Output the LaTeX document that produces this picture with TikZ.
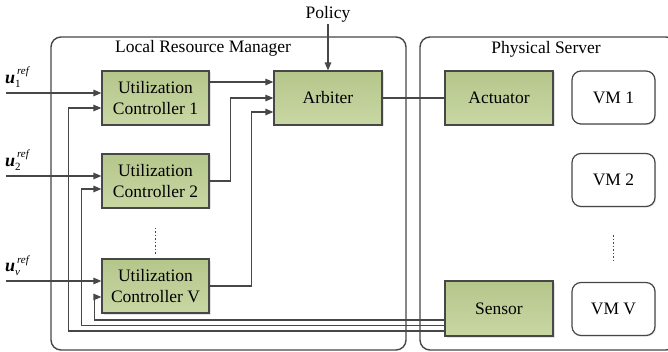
\documentclass[tikz,border=0pt]{standalone}
\usepackage{fontspec}
\setmainfont{Liberation Serif}
\usetikzlibrary{arrows.meta,shadows}

\definecolor{ink}{HTML}{474747}
\definecolor{gtop}{HTML}{B5C68B}
\definecolor{gbot}{HTML}{C9D7A4}

% reference input label: bold italic u with a subscript and an italic "ref"
\newcommand{\urefl}[1]{{\fontsize{18}{18}\selectfont\bfseries\itshape u}%
  \rlap{\raisebox{-4pt}{\fontsize{11}{11}\selectfont #1}}%
  \raisebox{9pt}{\fontsize{11}{11}\selectfont\itshape\,ref}}

\begin{document}
\begin{tikzpicture}[x=1pt,y=-1pt,
  font=\fontsize{17.5}{21}\selectfont,
  frame/.style={draw=ink, line width=1.4pt, rounded corners=10pt, inner sep=0pt},
  unit/.style={draw=ink, line width=1.2pt, top color=gtop, bottom color=gbot,
    minimum width=107pt, minimum height=54pt, inner sep=0pt, align=center,
    drop shadow={opacity=0.22, shadow xshift=1.5pt, shadow yshift=-1.5pt}},
  vm/.style={draw=ink, line width=1.2pt, rounded corners=9pt, fill=white,
    minimum width=83pt, minimum height=53pt, inner sep=0pt,
    drop shadow={opacity=0.15, shadow xshift=1.2pt, shadow yshift=-1.2pt}},
  wire/.style={draw=ink, line width=1.3pt},
  feed/.style={wire, -{Triangle[length=8pt,width=6.5pt]}},
  vdots/.style={draw=ink, line width=1.6pt, dash pattern=on 1.5pt off 2pt}]

\useasboundingbox (0,0) rectangle (668,352);

% enclosing frames
\node[frame, minimum width=355pt, minimum height=313pt] (lrm) at (228.5,193.5) {};
\node[frame, minimum width=256pt, minimum height=313pt] (ps) at (548,193.5) {};
\node[anchor=base] (lrmt) at (203,53) {Local Resource Manager};
\node[anchor=base] (pst) at (546,54) {Physical Server};

% blocks
\node[unit] (uc1) at (155.5,98) {Utilization\\Controller 1};
\node[unit] (uc2) at (155.5,181) {Utilization\\Controller 2};
\node[unit] (ucv) at (155.5,286) {Utilization\\Controller V};
\node[unit, minimum width=108pt] (arb) at (328,98) {Arbiter};
\node[unit, minimum width=108pt] (act) at (499,98) {Actuator};
\node[unit, minimum width=108pt, minimum height=55pt] (sen) at (499,308.5) {Sensor};
\node[vm] (vm1) at (613.5,97.5) {VM 1};
\node[vm] (vm2) at (613.5,180) {VM 2};
\node[vm] (vmv) at (613.5,309) {VM V};

% continuation dots
\draw[vdots] ([yshift=-19pt]uc2.south) -- ([yshift=4pt]ucv.north);
\draw[vdots] ([yshift=-28pt]vm2.south) -- ([yshift=-56pt]vm2.south);

% policy input
\node[anchor=base, inner sep=1pt] (pol) at (328,19) {Policy};
\draw[feed] (pol.south) -- (arb.north);

% reference inputs
\coordinate (in1) at (6,93);
\coordinate (in2) at (6,176);
\coordinate (inv) at (6,281);
\node[anchor=base west, inner sep=0pt] (l1) at (5,84) {\urefl{1}};
\node[anchor=base west, inner sep=0pt] (l2) at (5,167) {\urefl{2}};
\node[anchor=base west, inner sep=0pt] (lv) at (5,272) {\urefl{\itshape v}};
\draw[feed] (in1) -- (in1 -| uc1.west);
\draw[feed] (in2) -- (in2 -| uc2.west);
\draw[feed] (inv) -- (inv -| ucv.west);

% controllers to arbiter
\draw[feed] ([yshift=16pt]uc1.east) -- ([yshift=16pt]arb.west);
\draw[feed] (uc2.east) -| ([xshift=-43pt]arb.west) -- (arb.west);
\draw[feed] (ucv.east) -| ([xshift=-22pt,yshift=-14pt]arb.west) -- ([yshift=-14pt]arb.west);

% arbiter to actuator
\draw[wire] (arb.east) -- (act.west);

% sensor feedback to the controllers
\draw[feed] ([yshift=-11.5pt]sen.west) -| ([xshift=-7pt,yshift=-11pt]ucv.west) -- ([yshift=-11pt]ucv.west);
\draw[feed] ([yshift=-17pt]sen.west) -| ([xshift=-20pt,yshift=-8pt]uc2.west) -- ([yshift=-8pt]uc2.west);
\draw[feed] ([yshift=-22.5pt]sen.west) -| ([xshift=-33pt,yshift=-10pt]uc1.west) -- ([yshift=-10pt]uc1.west);

\end{tikzpicture}
\end{document}
